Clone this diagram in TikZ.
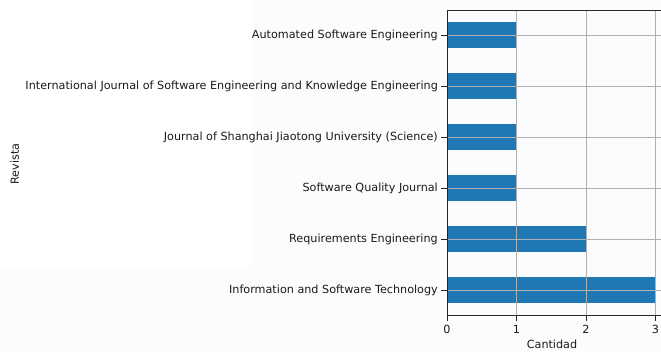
\documentclass[tikz,border=0pt]{standalone}
\usepackage{fontspec}
\setmainfont{DejaVu Sans}
\definecolor{barblue}{HTML}{1F77B4}
\definecolor{gridgray}{HTML}{B0B0B0}
\definecolor{bgtint}{HTML}{FBFCFE}
\definecolor{spine}{HTML}{262626}
\definecolor{txt}{HTML}{1A1A1A}
\begin{document}
\begin{tikzpicture}[x=1pt,y=-1pt,
  bar/.style={fill=barblue},
  gridline/.style={draw=gridgray,line width=0.8pt},
  spineline/.style={draw=spine,line width=1pt},
  tickmark/.style={draw=spine,line width=0.8pt},
  ticklabel/.style={font=\fontsize{11.2}{13}\selectfont,text=txt,inner sep=0pt},
  axislabel/.style={font=\fontsize{11.2}{13}\selectfont,text=txt,inner sep=0pt}]
\useasboundingbox (0,0) rectangle (661,351);
\fill[bgtint] (252,0) rectangle (661,268);
\fill[bgtint] (0,268) rectangle (661,351);
% bars
\foreach \v [count=\i from 0] in {1,1,1,1,2,3} {
  \pgfmathsetmacro{\yc}{35+51*\i}
  \fill[bar] (447,\yc-12.7) rectangle (447+69.5*\v,\yc+12.7);
}
% grid
\foreach \k in {1,2,3} {
  \draw[gridline] (447+69.5*\k,10) -- (447+69.5*\k,315);
}
\foreach \i in {0,...,5} {
  \draw[gridline] (447,35+51*\i) -- (661,35+51*\i);
}
% spines
\draw[spineline] (661,10) -- (447,10) -- (447,315) -- (661,315);
% y ticks and labels
\foreach \t [count=\i from 0] in {Automated Software Engineering,
  International Journal of Software Engineering and Knowledge Engineering,
  Journal of Shanghai Jiaotong University (Science),
  Software Quality Journal,
  Requirements Engineering,
  Information and Software Technology} {
  \draw[tickmark] (441,35+51*\i) -- (447,35+51*\i);
  \node[ticklabel,anchor=east] (ylab\i) at (438,35+51*\i) {\t};
}
% x ticks and labels
\foreach \k in {0,1,2,3} {
  \draw[tickmark] (447+69.5*\k,315) -- (447+69.5*\k,321);
  \node[ticklabel,anchor=base] (xlab\k) at (447+69.5*\k,333) {\k};
}
\node[axislabel,anchor=base] (xtitle) at (552,348) {Cantidad};
\node[axislabel,anchor=base,rotate=90] (ytitle) at (19,164) {Revista};
\end{tikzpicture}
\end{document}
